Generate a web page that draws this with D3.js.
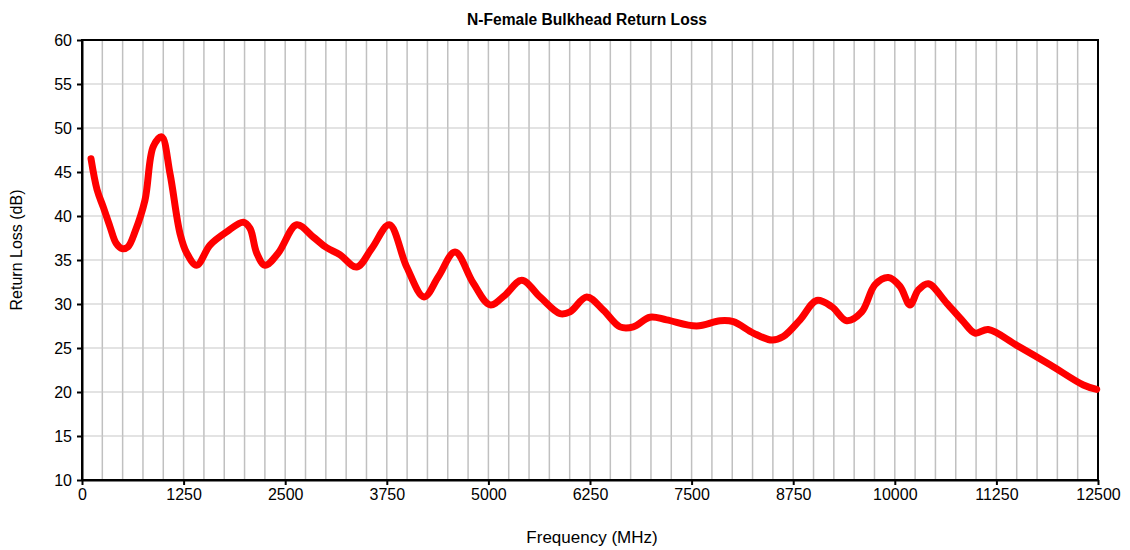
<!DOCTYPE html>
<html>
<head>
<meta charset="utf-8">
<script src="https://cdn.jsdelivr.net/npm/d3@7"></script>
<style>
body { margin: 0; background: #fff; }
text { font-family: "Liberation Sans", Arial, sans-serif; }
</style>
</head>
<body>
<svg id="chart" width="1130" height="550"></svg>
<script>
var freq = [111, 185, 262, 344, 420, 492, 566, 652, 775, 877, 980, 1083, 1206, 1288, 1411, 1575, 1780, 1985, 2067, 2149,
  2251, 2415, 2641, 2846, 3010, 3174, 3380, 3564, 3781, 3995, 4208, 4384, 4589, 4815, 5020, 5204, 5410, 5635, 5881, 6004,
  6209, 6414, 6619, 6783, 6988, 7193, 7562, 7850, 8013, 8259, 8485, 8628, 8834, 9039, 9224, 9408, 9593, 9757, 9921, 10064,
  10187, 10290, 10413, 10638, 10843, 10987, 11151, 11500, 11910, 12320, 12484];
var loss = [46.5, 43.0, 41.0, 38.8, 36.9, 36.3, 36.5, 38.2, 41.8, 47.9, 49.0, 44.8, 38.0, 35.8, 34.4, 36.7, 38.2, 39.3, 38.6, 35.8,
  34.4, 35.8, 39.0, 37.6, 36.4, 35.6, 34.2, 36.3, 39.0, 34.2, 30.8, 33.1, 35.9, 32.35, 29.9, 31.0, 32.7, 30.8, 28.9, 29.1,
  30.8, 29.3, 27.4, 27.4, 28.5, 28.2, 27.5, 28.1, 28.0, 26.7, 25.9, 26.3, 28.2, 30.4, 29.7, 28.1, 29.1, 32.2, 33.0, 32.0,
  29.9, 31.6, 32.3, 30.1, 28.0, 26.7, 27.1, 25.3, 23.1, 20.8, 20.3];
var xTicks = d3.range(0, 12501, 1250);
var xGrid = d3.range(0, 12501, 250);
var yTicks = d3.range(10, 61, 5);

var svg = d3.select("#chart");
var plotLeft = 82, plotRight = 1098, plotTop = 40, plotBottom = 480;

var x = d3.scaleLinear().domain([0, 12500]).range([plotLeft, plotRight]);
var y = d3.scaleLinear().domain([10, 60]).range([plotBottom, plotTop]);

// grid
svg.append("g").selectAll("line").data(xGrid).join("line")
  .attr("x1", d => x(d)).attr("x2", d => x(d))
  .attr("y1", plotTop).attr("y2", plotBottom)
  .attr("stroke", "#c0c0c0").attr("stroke-width", 1.5);
svg.append("g").selectAll("line").data(yTicks).join("line")
  .attr("x1", plotLeft).attr("x2", plotRight)
  .attr("y1", d => y(d)).attr("y2", d => y(d))
  .attr("stroke", "#c8c8c8").attr("stroke-width", 1.2);

// frame
svg.append("rect").attr("x", plotLeft).attr("y", plotTop)
  .attr("width", plotRight - plotLeft).attr("height", plotBottom - plotTop)
  .attr("fill", "none").attr("stroke", "#000").attr("stroke-width", 2);

// axes
var xAxis = svg.append("g").attr("transform", "translate(0," + plotBottom + ")")
  .call(d3.axisBottom(x).tickValues(xTicks).tickSize(5).tickSizeOuter(0).tickPadding(4).tickFormat(d3.format("d")));
var yAxis = svg.append("g").attr("transform", "translate(" + plotLeft + ",0)")
  .call(d3.axisLeft(y).tickValues(yTicks).tickSize(5).tickSizeOuter(0).tickPadding(5));
[xAxis, yAxis].forEach(function (a) {
  a.select(".domain").attr("stroke", "#000").attr("stroke-width", 2);
  a.selectAll(".tick line").attr("stroke", "#000").attr("stroke-width", 2);
  a.selectAll(".tick text").attr("font-size", 16).attr("fill", "#000")
    .style("font-family", "'Liberation Sans', Arial, sans-serif");
});

// curve
var pts = freq.map((f, i) => [f, loss[i]]);
svg.append("path").datum(pts)
  .attr("fill", "none").attr("stroke", "#ff0000").attr("stroke-width", 7)
  .attr("stroke-linecap", "round").attr("stroke-linejoin", "round")
  .attr("d", d3.line().x(d => x(d[0])).y(d => y(d[1])).curve(d3.curveCatmullRom.alpha(0.5)));

// titles
svg.append("text").attr("x", 587).attr("y", 25).attr("text-anchor", "middle")
  .attr("font-size", 15.6).attr("font-weight", "bold").text("N-Female Bulkhead Return Loss");
svg.append("text").attr("x", 592).attr("y", 543).attr("text-anchor", "middle")
  .attr("font-size", 17).text("Frequency (MHz)");
svg.append("text").attr("transform", "translate(22,250) rotate(-90)").attr("text-anchor", "middle")
  .attr("font-size", 16).text("Return Loss (dB)");
</script>
</body>
</html>
